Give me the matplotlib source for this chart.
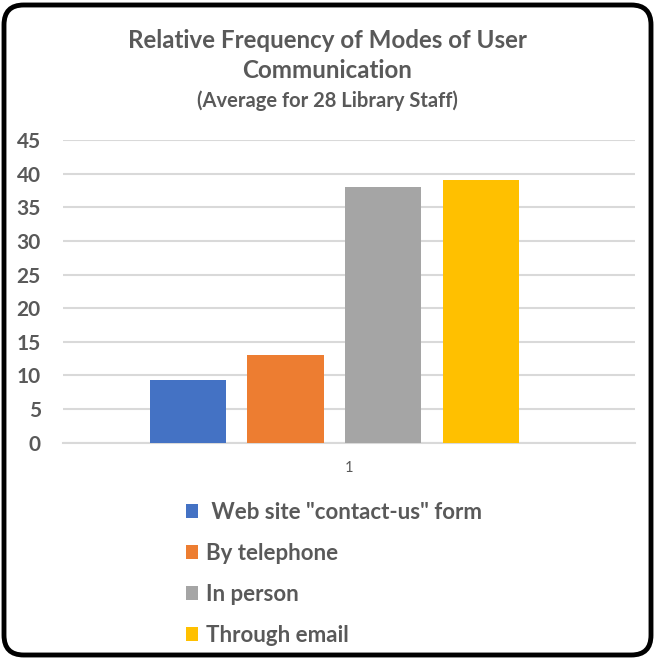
import matplotlib.pyplot as plt
from matplotlib.patches import FancyBboxPatch

# Data
modes = [' Web site "contact-us" form', 'By telephone', 'In person', 'Through email']
values = [9.3, 13.0, 38.1, 39.1]
colors = ['#4472c4', '#ed7d31', '#a5a5a5', '#ffc000']
category = ['1']
yticks = list(range(0, 50, 5))

plt.rcParams['font.family'] = ['Lato', 'DejaVu Sans']
txt = '#595959'

fig = plt.figure(figsize=(6.55, 6.61), dpi=100)
ax = fig.add_axes([0.0962, 0.3303, 0.8733, 0.4576])

# grouped bars on a single category
step = 0.171
width = 0.133
shift = -0.0255
for i, (lab, v, c) in enumerate(zip(modes, values, colors)):
    ax.bar(0 + shift + (i - 1.5) * step, v, width=width, color=c, label=lab, zorder=3)

ax.set_xlim(-0.5, 0.5)
ax.set_ylim(0, 45)
ax.set_yticks(yticks)
ax.set_xticks([0])
ax.set_xticklabels(category, fontsize=10.5, color=txt)
ax.grid(axis='y', color='#d9d9d9', linewidth=1.5, zorder=0)
for s in ['top', 'right', 'left']:
    ax.spines[s].set_visible(False)
ax.spines['bottom'].set_color('#d9d9d9')
ax.spines['bottom'].set_linewidth(1.5)
ax.tick_params(length=0)
ax.tick_params(axis='y', labelsize=15, labelcolor=txt, pad=16)
ax.tick_params(axis='x', pad=13)
for t in ax.get_yticklabels():
    t.set_fontweight('bold')

# titles
fig.text(0.5, 1 - 40 / 661, 'Relative Frequency of Modes of User', ha='center', va='center',
         fontsize=17.4, fontweight='bold', color=txt)
fig.text(0.5, 1 - 71 / 661, 'Communication', ha='center', va='center',
         fontsize=17.4, fontweight='bold', color=txt)
fig.text(0.5, 1 - 101 / 661, '(Average for 28 Library Staff)', ha='center', va='center',
         fontsize=14.5, fontweight='bold', color=txt)

# legend
leg = fig.legend(loc='upper left', bbox_to_anchor=(166 / 655, 1 - 482 / 661), frameon=False,
                 handlelength=0.55, handleheight=0.55, handletextpad=0.36, labelspacing=0.9,
                 prop={'size': 16, 'weight': 'bold'}, labelcolor=txt)

# rounded border
border = FancyBboxPatch((4 / 655, 6 / 661), 647 / 655, 650 / 661,
                        boxstyle='round,pad=0,rounding_size=0.03',
                        transform=fig.transFigure, fill=False, edgecolor='black',
                        linewidth=3.5, zorder=10)
fig.patches.append(border)

plt.savefig('out.png', dpi=100)
